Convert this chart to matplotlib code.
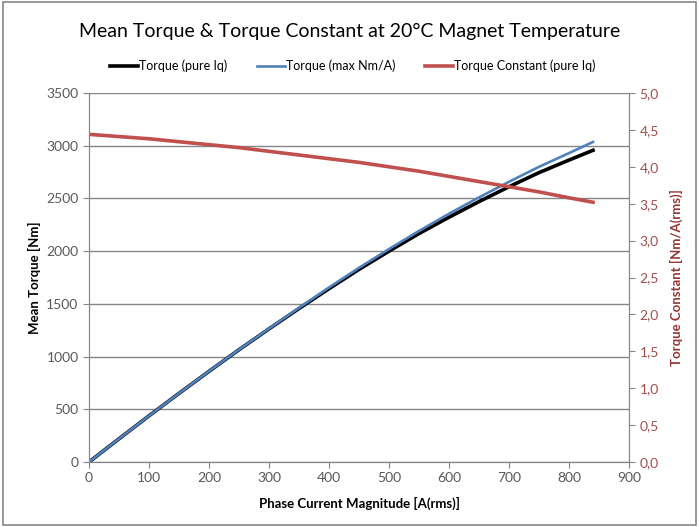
import matplotlib
matplotlib.use('Agg')
import matplotlib.pyplot as plt
from matplotlib.patches import Rectangle

plt.rcParams['font.family'] = ['Lato', 'DejaVu Sans']

# Phase current [A(rms)]
current = [0, 50, 100, 150, 200, 250, 300, 350, 400, 450, 500, 550, 600, 650, 700, 750, 800, 840]
# Mean torque [Nm]
torque_pure_iq = [0, 220, 438, 651, 860, 1065, 1263, 1456, 1644, 1827, 2000, 2167, 2322, 2470, 2611, 2745, 2864, 2957]
torque_max_nma = [0, 220, 438, 651, 861, 1066, 1265, 1462, 1655, 1842, 2020, 2192, 2355, 2510, 2658, 2800, 2930, 3036]
# Torque constant [Nm/A(rms)]
kt_pure_iq = [4.44, 4.41, 4.38, 4.34, 4.30, 4.26, 4.21, 4.16, 4.11, 4.06, 4.00, 3.94, 3.87, 3.80, 3.73, 3.66, 3.58, 3.52]

fig = plt.figure(figsize=(6.99, 5.27), dpi=100)
fig.patches.append(Rectangle((0.004, 0.004), 0.992, 0.992, transform=fig.transFigure,
                             fill=False, edgecolor='#868686', linewidth=1.2))

ax = fig.add_axes([0.1273, 0.1233, 0.7726, 0.7002])
ax2 = ax.twinx()

grey = '#868686'
txt = '#595959'
red_tick = '#A0504D'

l1, = ax.plot(current, torque_pure_iq, color='black', linewidth=2.6, label='Torque (pure Iq)')
l2, = ax.plot(current, torque_max_nma, color='#4F81BD', linewidth=1.9, label='Torque (max Nm/A)')
l3, = ax2.plot(current, kt_pure_iq, color='#C0504D', linewidth=2.6, label='Torque Constant (pure Iq)')

ax.set_xlim(0, 900)
ax.set_ylim(0, 3500)
ax2.set_ylim(0, 5)
ax.set_xticks(range(0, 901, 100))
ax.set_yticks(range(0, 3501, 500))
ax2.set_yticks([i * 0.5 for i in range(11)])
ax2.set_yticklabels([('%.1f' % (i * 0.5)).replace('.', ',') for i in range(11)])

ax.grid(axis='y', color=grey, linewidth=1.0)
ax.set_axisbelow(True)

for a in (ax, ax2):
    for s in a.spines.values():
        s.set_color(grey)
    a.spines['top'].set_visible(False)
    a.tick_params(direction='out', length=4, color=grey, labelsize=10)
ax.tick_params(colors=grey, labelcolor=txt)
ax2.tick_params(axis='y', colors=grey, labelcolor=red_tick)

ax.set_xlabel('Phase Current Magnitude [A(rms)]', fontsize=9.5, fontweight='bold', color='black', labelpad=9)
ax.set_ylabel('Mean Torque [Nm]', fontsize=9.5, fontweight='bold', color='black', labelpad=4)
ax2.set_ylabel('Torque Constant [Nm/A(rms)]', fontsize=9.5, fontweight='bold', color='#943634', labelpad=8)

fig.text(0.5, 0.941, 'Mean Torque & Torque Constant at 20°C Magnet Temperature',
         ha='center', va='center', fontsize=14, color='black')
fig.legend(handles=[l1, l2, l3], loc='center', bbox_to_anchor=(0.505, 0.875), ncol=3,
           frameon=False, fontsize=9, handlelength=2.2, handletextpad=0.1, columnspacing=2.4)

fig.savefig('out.png', dpi=100)
